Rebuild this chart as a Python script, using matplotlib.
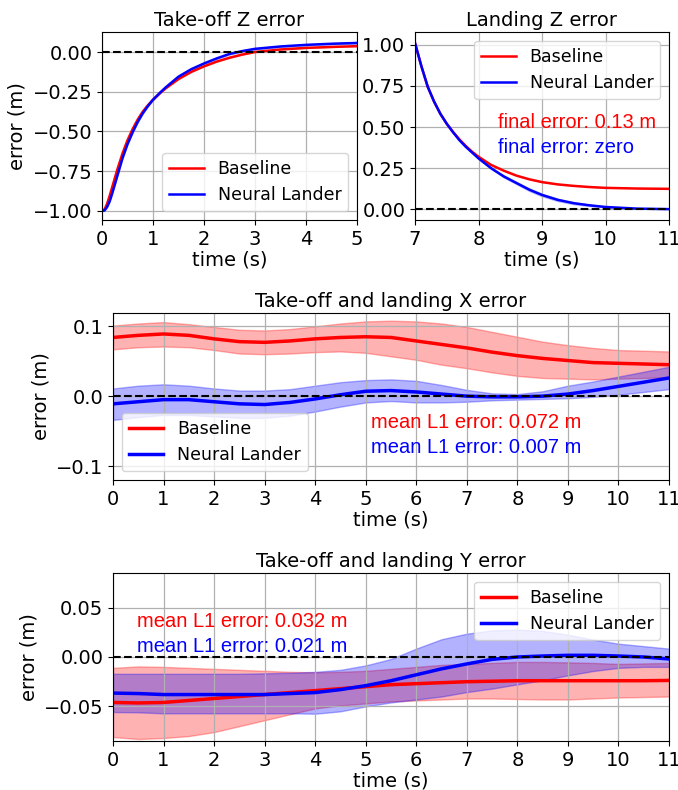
import numpy as np
import matplotlib
matplotlib.use('Agg')
import matplotlib.pyplot as plt

# --- Take-off Z error (t = 0..5 s) ---
t_takeoff = [0, 0.05, 0.1, 0.15, 0.2, 0.3, 0.4, 0.5, 0.6, 0.7, 0.8, 0.9, 1.0, 1.15, 1.25, 1.5, 1.75, 2.0, 2.25, 2.5, 2.75, 3.0, 3.5, 4.0, 4.5, 5.0]
z_takeoff_base = [-1.0, -0.99, -0.955, -0.905, -0.85, -0.74, -0.64, -0.555, -0.485, -0.425, -0.375, -0.335, -0.30, -0.255, -0.228, -0.17, -0.125, -0.09, -0.06, -0.036, -0.016, 0.0, 0.016, 0.026, 0.032, 0.037]
z_takeoff_nl = [-1.0, -0.997, -0.975, -0.94, -0.89, -0.78, -0.67, -0.58, -0.505, -0.44, -0.385, -0.34, -0.30, -0.252, -0.222, -0.155, -0.108, -0.072, -0.04, -0.012, 0.006, 0.02, 0.035, 0.045, 0.052, 0.057]
z_takeoff_std = [0.0, 0.004, 0.008, 0.01, 0.012, 0.012, 0.012, 0.012, 0.012, 0.011, 0.01, 0.01, 0.009, 0.008, 0.008, 0.008, 0.008, 0.008, 0.008, 0.008, 0.008, 0.008, 0.008, 0.008, 0.008, 0.008]

# --- Landing Z error (t = 7..11 s) ---
t_landing = [7.0, 7.1, 7.2, 7.3, 7.4, 7.5, 7.6, 7.7, 7.8, 7.9, 8.0, 8.2, 8.4, 8.6, 8.8, 9.0, 9.25, 9.5, 9.75, 10.0, 10.5, 11.0]
z_landing_base = [1.01, 0.87, 0.745, 0.655, 0.58, 0.52, 0.47, 0.425, 0.385, 0.35, 0.32, 0.27, 0.235, 0.205, 0.183, 0.166, 0.152, 0.143, 0.136, 0.131, 0.127, 0.125]
z_landing_nl = [1.01, 0.87, 0.745, 0.655, 0.58, 0.52, 0.468, 0.42, 0.38, 0.345, 0.31, 0.25, 0.2, 0.16, 0.12, 0.088, 0.058, 0.038, 0.025, 0.015, 0.005, 0.002]
z_landing_std = [0.004, 0.004, 0.004, 0.004, 0.004, 0.005, 0.005, 0.006, 0.006, 0.007, 0.008, 0.009, 0.01, 0.011, 0.012, 0.012, 0.011, 0.01, 0.008, 0.006, 0.004, 0.003]

# --- Take-off and landing X / Y error (t = 0..11 s) ---
t_full = [0, 0.5, 1, 1.5, 2, 2.5, 3, 3.5, 4, 4.5, 5, 5.5, 6, 6.5, 7, 7.5, 8, 8.5, 9, 9.5, 10, 10.5, 11]

x_base = [0.084, 0.087, 0.089, 0.087, 0.082, 0.078, 0.077, 0.079, 0.082, 0.084, 0.085, 0.084, 0.079, 0.074, 0.069, 0.063, 0.058, 0.054, 0.051, 0.048, 0.047, 0.046, 0.045]
x_base_hi = [0.101, 0.104, 0.106, 0.103, 0.099, 0.095, 0.094, 0.096, 0.100, 0.104, 0.107, 0.108, 0.107, 0.104, 0.099, 0.092, 0.085, 0.078, 0.073, 0.069, 0.066, 0.065, 0.064]
x_base_lo = [0.067, 0.070, 0.071, 0.070, 0.066, 0.061, 0.060, 0.061, 0.063, 0.064, 0.062, 0.057, 0.052, 0.045, 0.040, 0.034, 0.029, 0.026, 0.025, 0.024, 0.025, 0.026, 0.027]
x_nl = [-0.011, -0.008, -0.005, -0.005, -0.008, -0.011, -0.012, -0.009, -0.004, 0.002, 0.007, 0.008, 0.006, 0.003, 0.000, -0.001, -0.001, 0.000, 0.003, 0.008, 0.014, 0.020, 0.026]
x_nl_hi = [0.011, 0.015, 0.017, 0.015, 0.011, 0.008, 0.008, 0.010, 0.015, 0.020, 0.023, 0.024, 0.022, 0.016, 0.009, 0.004, 0.003, 0.007, 0.015, 0.021, 0.028, 0.035, 0.042]
x_nl_lo = [-0.034, -0.030, -0.027, -0.027, -0.029, -0.031, -0.031, -0.028, -0.022, -0.015, -0.009, -0.007, -0.009, -0.009, -0.008, -0.006, -0.005, -0.004, -0.003, -0.001, 0.002, 0.006, 0.010]

y_base = [-0.046, -0.0465, -0.046, -0.044, -0.042, -0.040, -0.038, -0.036, -0.034, -0.032, -0.030, -0.028, -0.027, -0.026, -0.025, -0.0245, -0.024, -0.024, -0.024, -0.024, -0.024, -0.024, -0.0237]
y_base_hi = [-0.011, -0.0095, -0.010, -0.011, -0.012, -0.013, -0.014, -0.015, -0.0155, -0.015, -0.014, -0.012, -0.010, -0.008, -0.007, -0.006, -0.005, -0.005, -0.0054, -0.006, -0.007, -0.0065, -0.006]
y_base_lo = [-0.081, -0.083, -0.082, -0.080, -0.076, -0.070, -0.064, -0.058, -0.052, -0.049, -0.047, -0.045, -0.044, -0.043, -0.042, -0.042, -0.0425, -0.043, -0.043, -0.042, -0.041, -0.0405, -0.040]
y_nl = [-0.0365, -0.037, -0.038, -0.038, -0.038, -0.038, -0.038, -0.037, -0.036, -0.033, -0.029, -0.024, -0.018, -0.012, -0.007, -0.0024, 0.0, 0.001, 0.0017, 0.0017, 0.001, 0.0, -0.002]
y_nl_hi = [-0.017, -0.017, -0.017, -0.017, -0.017, -0.017, -0.0165, -0.016, -0.015, -0.013, -0.0085, -0.002, 0.0085, 0.018, 0.0236, 0.027, 0.0277, 0.0264, 0.0226, 0.0176, 0.0135, 0.011, 0.0085]
y_nl_lo = [-0.0557, -0.056, -0.057, -0.057, -0.057, -0.057, -0.057, -0.057, -0.0574, -0.055, -0.050, -0.046, -0.043, -0.040, -0.0355, -0.032, -0.0277, -0.0236, -0.0186, -0.0142, -0.011, -0.010, -0.010]

FS = 14
ANNOT_FONT = ['Liberation Sans', 'DejaVu Sans']

fig = plt.figure(figsize=(6.78, 7.90), dpi=100)
W, H = 678, 790


def add_axes(left, top, right, bottom):
    return fig.add_axes([left / W, 1 - bottom / H, (right - left) / W, (bottom - top) / H])


def style(ax, title):
    ax.set_title(title, fontsize=FS, pad=4)
    ax.set_xlabel('time (s)', fontsize=FS, labelpad=1)
    ax.grid(True, color='#b0b0b0', lw=0.9)
    ax.tick_params(labelsize=FS)
    ax.axhline(0, color='k', ls='--', lw=1.5, zorder=3)


# Take-off Z
ax1 = add_axes(102, 32, 357, 220)
t = np.array(t_takeoff)
zb, zn, zs = np.array(z_takeoff_base), np.array(z_takeoff_nl), np.array(z_takeoff_std)
ax1.fill_between(t, zb - zs * 0.6, zb + zs * 0.6, color='red', alpha=0.3, lw=0)
ax1.fill_between(t, zn - zs, zn + zs, color='blue', alpha=0.3, lw=0)
ax1.plot(t, zb, color='red', lw=1.8, label='Baseline')
ax1.plot(t, zn, color='blue', lw=1.8, label='Neural Lander')
style(ax1, 'Take-off Z error')
ax1.set_xlim(0, 5)
ax1.set_ylim(-1.057, 0.126)
ax1.set_xticks(range(6))
ax1.set_yticks([-1.0, -0.75, -0.5, -0.25, 0.0])
ax1.set_ylabel('error (m)', fontsize=FS)
ax1.legend(loc='lower right', fontsize=12.5, handlelength=2.0)

# Landing Z
ax2 = add_axes(415, 32, 669, 220)
t = np.array(t_landing)
zb, zn, zs = np.array(z_landing_base), np.array(z_landing_nl), np.array(z_landing_std)
ax2.fill_between(t, zb - zs * 0.3, zb + zs * 0.3, color='red', alpha=0.3, lw=0)
ax2.fill_between(t, zn - zs, zn + zs, color='blue', alpha=0.3, lw=0)
ax2.plot(t, zb, color='red', lw=1.8, label='Baseline')
ax2.plot(t, zn, color='blue', lw=1.8, label='Neural Lander')
style(ax2, 'Landing Z error')
ax2.set_xlim(7, 11)
ax2.set_ylim(-0.064, 1.077)
ax2.set_yticks([0.0, 0.25, 0.5, 0.75, 1.0])
ax2.legend(loc='upper right', fontsize=12.5, handlelength=2.0)
ax2.text(8.31, 0.527, 'final error: 0.13 m', color='red', fontsize=14.5,
         family=ANNOT_FONT, ha='left', va='center')
ax2.text(8.31, 0.376, 'final error: zero', color='blue', fontsize=14.5,
         family=ANNOT_FONT, ha='left', va='center')

# Take-off and landing X
ax3 = add_axes(113, 313, 669, 480)
t = np.array(t_full)
ax3.fill_between(t, x_base_lo, x_base_hi, color='red', alpha=0.3)
ax3.fill_between(t, x_nl_lo, x_nl_hi, color='blue', alpha=0.3)
ax3.plot(t, x_base, color='red', lw=2.5, label='Baseline')
ax3.plot(t, x_nl, color='blue', lw=2.5, label='Neural Lander')
style(ax3, 'Take-off and landing X error')
ax3.set_xlim(0, 11)
ax3.set_ylim(-0.12, 0.119)
ax3.set_xticks(range(12))
ax3.set_yticks([-0.1, 0.0, 0.1])
ax3.set_ylabel('error (m)', fontsize=FS)
ax3.legend(loc='lower left', fontsize=12.5, handlelength=2.0)
ax3.text(5.10, -0.037, 'mean L1 error: 0.072 m', color='red', fontsize=14.5,
         family=ANNOT_FONT, ha='left', va='center')
ax3.text(5.10, -0.073, 'mean L1 error: 0.007 m', color='blue', fontsize=14.5,
         family=ANNOT_FONT, ha='left', va='center')

# Take-off and landing Y
ax4 = add_axes(113, 573, 669, 741)
ax4.fill_between(t, y_base_lo, y_base_hi, color='red', alpha=0.3)
ax4.fill_between(t, y_nl_lo, y_nl_hi, color='blue', alpha=0.3)
ax4.plot(t, y_base, color='red', lw=2.5, label='Baseline')
ax4.plot(t, y_nl, color='blue', lw=2.5, label='Neural Lander')
style(ax4, 'Take-off and landing Y error')
ax4.set_xlim(0, 11)
ax4.set_ylim(-0.085, 0.085)
ax4.set_xticks(range(12))
ax4.set_yticks([-0.05, 0.0, 0.05])
ax4.set_ylabel('error (m)', fontsize=FS)
ax4.legend(loc='upper right', fontsize=12.5, handlelength=2.0)
ax4.text(0.48, 0.036, 'mean L1 error: 0.032 m', color='red', fontsize=14.5,
         family=ANNOT_FONT, ha='left', va='center')
ax4.text(0.48, 0.011, 'mean L1 error: 0.021 m', color='blue', fontsize=14.5,
         family=ANNOT_FONT, ha='left', va='center')

fig.savefig('out.png', dpi=100)
